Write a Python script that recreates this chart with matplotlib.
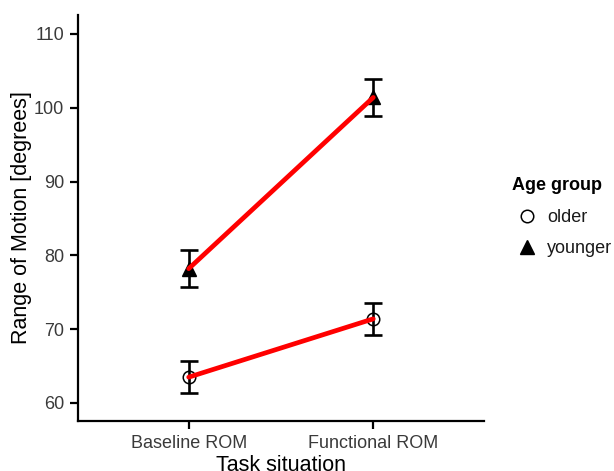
import matplotlib
matplotlib.use("Agg")
import matplotlib.pyplot as plt
from matplotlib.lines import Line2D

plt.rcParams['font.family'] = ['Liberation Sans', 'DejaVu Sans']

categories = ["Baseline ROM", "Functional ROM"]
groups = ["older", "younger"]
older_mean = [63.5, 71.4]
older_err = [2.15, 2.2]
younger_mean = [78.2, 101.4]
younger_err = [2.55, 2.5]
yticks = [60, 70, 80, 90, 100, 110]

fig = plt.figure(figsize=(6.14, 4.71), dpi=100)
ax = fig.add_axes([78/614, 50/471, (484-78)/614, (421-15)/471])

x = list(range(len(categories)))
tick_grey = "#3a3a3a"

# points
ax.plot(x, older_mean, linestyle='none', marker='o', markersize=9,
        markerfacecolor='none', markeredgecolor='black', markeredgewidth=1.1, zorder=2)
ax.plot(x, younger_mean, linestyle='none', marker='^', markersize=10,
        color='black', zorder=2)
# error bars
for m, e in ((older_mean, older_err), (younger_mean, younger_err)):
    ax.errorbar(x, m, yerr=e, fmt='none', ecolor='black', elinewidth=1.9,
                capsize=6.8, capthick=1.9, zorder=3)
# lines
ax.plot(x, older_mean, color='#FF0000', linewidth=3.4, solid_capstyle='round', zorder=4)
ax.plot(x, younger_mean, color='#FF0000', linewidth=3.4, solid_capstyle='round', zorder=4)

ax.set_xlim(-0.6, 1.6)
ax.set_ylim(57.56, 112.57)
ax.set_xticks(x)
ax.set_xticklabels(categories)
ax.set_yticks(yticks)

for s in ['top', 'right']:
    ax.spines[s].set_visible(False)
for s in ['left', 'bottom']:
    ax.spines[s].set_linewidth(1.6)
    ax.spines[s].set_color('black')

ax.tick_params(axis='both', length=6, width=1.6, color='black',
               labelsize=13, labelcolor=tick_grey, pad=4)

ax.set_xlabel("Task situation", fontsize=15.5, color='black', labelpad=2)
ax.set_ylabel("Range of Motion [degrees]", fontsize=15.5, color='black', labelpad=1.5)

handles = [
    Line2D([], [], linestyle='none', marker='o', markersize=9,
           markerfacecolor='none', markeredgecolor='black', markeredgewidth=1.1),
    Line2D([], [], linestyle='none', marker='^', markersize=10, color='black'),
]
leg = fig.legend(handles, groups, title="Age group", loc='upper left',
                 bbox_to_anchor=(498/614, 1 - 163/471), frameon=False,
                 fontsize=13, title_fontsize=13, handlelength=1.6,
                 handletextpad=0.3, labelspacing=0.8, borderpad=0.3,
                 alignment='left')
leg.get_title().set_fontweight('bold')
for t in leg.get_texts():
    t.set_color('#1a1a1a')

fig.savefig("out.png", dpi=100, facecolor='white')
